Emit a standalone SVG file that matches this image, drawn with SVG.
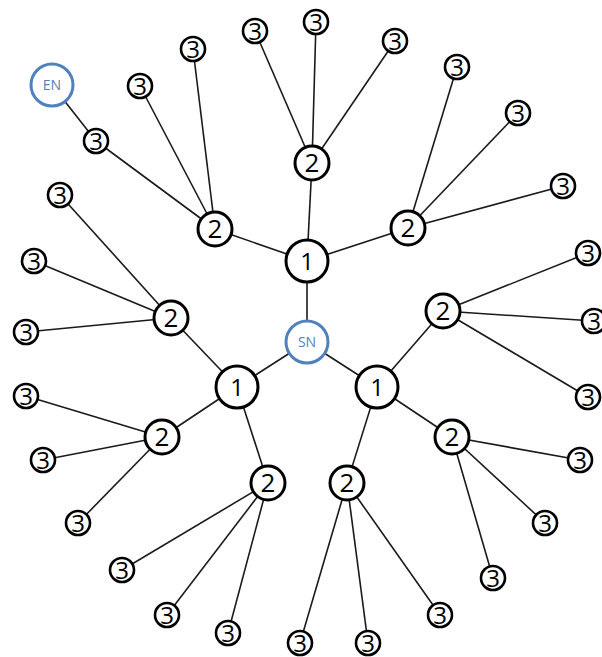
<svg xmlns="http://www.w3.org/2000/svg" width="602" height="657" viewBox="0 0 602 657">
  <style>
    .edge { stroke: #1a1a1a; stroke-width: 1.6; fill: none; }
    .n circle { fill: #ffffff; stroke: #000000; }
    .n text { font-family: "Open Sans", "Liberation Sans", sans-serif; fill: #000000; text-anchor: middle; }
    .l3 circle { stroke-width: 2.6; }
    .l3 text { font-size: 24px; }
    .l2 circle { stroke-width: 3; }
    .l2 text { font-size: 26px; }
    .l1 circle { stroke-width: 3; }
    .l1 text { font-size: 24px; }
    .term circle { stroke: #4f81bd; stroke-width: 3; }
    .term text { fill: #4f81bd; font-size: 14px; }
  </style>
  <rect width="602" height="657" fill="#ffffff"/>

  <!-- connectors -->
  <g id="connectors">
    <!-- start node to level 1 -->
    <line class="edge" x1="307" y1="342" x2="307" y2="261"/>
    <line class="edge" x1="307" y1="342" x2="237" y2="387"/>
    <line class="edge" x1="307" y1="342" x2="377" y2="387"/>
    <!-- level 1 to level 2 -->
    <line class="edge" x1="307" y1="261" x2="215" y2="229"/>
    <line class="edge" x1="307" y1="261" x2="312" y2="163"/>
    <line class="edge" x1="307" y1="261" x2="408" y2="228"/>
    <line class="edge" x1="237" y1="387" x2="171" y2="318"/>
    <line class="edge" x1="237" y1="387" x2="162" y2="437"/>
    <line class="edge" x1="237" y1="387" x2="268" y2="483"/>
    <line class="edge" x1="377" y1="387" x2="347" y2="483"/>
    <line class="edge" x1="377" y1="387" x2="452" y2="437"/>
    <line class="edge" x1="377" y1="387" x2="443" y2="311"/>
    <!-- level 2 to level 3 -->
    <line class="edge" x1="215" y1="229" x2="96" y2="141"/>
    <line class="edge" x1="215" y1="229" x2="140" y2="86"/>
    <line class="edge" x1="215" y1="229" x2="193" y2="49"/>
    <line class="edge" x1="312" y1="163" x2="255" y2="31"/>
    <line class="edge" x1="312" y1="163" x2="316" y2="22"/>
    <line class="edge" x1="312" y1="163" x2="395" y2="41"/>
    <line class="edge" x1="408" y1="228" x2="457" y2="67"/>
    <line class="edge" x1="408" y1="228" x2="518" y2="113"/>
    <line class="edge" x1="408" y1="228" x2="563" y2="186"/>
    <line class="edge" x1="171" y1="318" x2="60" y2="195"/>
    <line class="edge" x1="171" y1="318" x2="34" y2="261"/>
    <line class="edge" x1="171" y1="318" x2="26" y2="332"/>
    <line class="edge" x1="162" y1="437" x2="26" y2="396"/>
    <line class="edge" x1="162" y1="437" x2="43" y2="460"/>
    <line class="edge" x1="162" y1="437" x2="78" y2="523"/>
    <line class="edge" x1="268" y1="483" x2="122" y2="570"/>
    <line class="edge" x1="268" y1="483" x2="167" y2="615"/>
    <line class="edge" x1="268" y1="483" x2="228" y2="633"/>
    <line class="edge" x1="347" y1="483" x2="300" y2="643"/>
    <line class="edge" x1="347" y1="483" x2="368" y2="643"/>
    <line class="edge" x1="347" y1="483" x2="440" y2="615"/>
    <line class="edge" x1="452" y1="437" x2="493" y2="578"/>
    <line class="edge" x1="452" y1="437" x2="545" y2="523"/>
    <line class="edge" x1="452" y1="437" x2="580" y2="460"/>
    <line class="edge" x1="443" y1="311" x2="588" y2="253"/>
    <line class="edge" x1="443" y1="311" x2="594" y2="321"/>
    <line class="edge" x1="443" y1="311" x2="588" y2="397"/>
    <!-- path end -->
    <line class="edge" x1="96" y1="141" x2="52" y2="85"/>
  </g>

  <!-- terminal nodes -->
  <g id="SN" class="n term"><circle cx="307" cy="342" r="21"/><text x="307" y="342" dy="0.36em">SN</text></g>
  <g id="EN" class="n term"><circle cx="52" cy="85" r="21"/><text x="52" y="85" dy="0.36em">EN</text></g>

  <!-- level 1 -->
  <g id="n1a" class="n l1"><circle cx="307" cy="261" r="21"/><text x="307" y="261" dy="0.36em">1</text></g>
  <g id="n1b" class="n l1"><circle cx="237" cy="387" r="21"/><text x="237" y="387" dy="0.36em">1</text></g>
  <g id="n1c" class="n l1"><circle cx="377" cy="387" r="21"/><text x="377" y="387" dy="0.36em">1</text></g>

  <!-- level 2 -->
  <g id="n2a" class="n l2"><circle cx="215" cy="229" r="17"/><text x="215" y="229" dy="0.36em">2</text></g>
  <g id="n2b" class="n l2"><circle cx="312" cy="163" r="17"/><text x="312" y="163" dy="0.36em">2</text></g>
  <g id="n2c" class="n l2"><circle cx="408" cy="228" r="17"/><text x="408" y="228" dy="0.36em">2</text></g>
  <g id="n2d" class="n l2"><circle cx="171" cy="318" r="17"/><text x="171" y="318" dy="0.36em">2</text></g>
  <g id="n2e" class="n l2"><circle cx="162" cy="437" r="17"/><text x="162" y="437" dy="0.36em">2</text></g>
  <g id="n2f" class="n l2"><circle cx="268" cy="483" r="17"/><text x="268" y="483" dy="0.36em">2</text></g>
  <g id="n2g" class="n l2"><circle cx="347" cy="483" r="17"/><text x="347" y="483" dy="0.36em">2</text></g>
  <g id="n2h" class="n l2"><circle cx="452" cy="437" r="17"/><text x="452" y="437" dy="0.36em">2</text></g>
  <g id="n2i" class="n l2"><circle cx="443" cy="311" r="17"/><text x="443" y="311" dy="0.36em">2</text></g>

  <!-- level 3 -->
  <g id="n3a" class="n l3"><circle cx="96" cy="141" r="12"/><text x="96" y="141" dy="0.36em">3</text></g>
  <g id="n3b" class="n l3"><circle cx="140" cy="86" r="12"/><text x="140" y="86" dy="0.36em">3</text></g>
  <g id="n3c" class="n l3"><circle cx="193" cy="49" r="12"/><text x="193" y="49" dy="0.36em">3</text></g>
  <g id="n3d" class="n l3"><circle cx="255" cy="31" r="12"/><text x="255" y="31" dy="0.36em">3</text></g>
  <g id="n3e" class="n l3"><circle cx="316" cy="22" r="12"/><text x="316" y="22" dy="0.36em">3</text></g>
  <g id="n3f" class="n l3"><circle cx="395" cy="41" r="12"/><text x="395" y="41" dy="0.36em">3</text></g>
  <g id="n3g" class="n l3"><circle cx="457" cy="67" r="12"/><text x="457" y="67" dy="0.36em">3</text></g>
  <g id="n3h" class="n l3"><circle cx="518" cy="113" r="12"/><text x="518" y="113" dy="0.36em">3</text></g>
  <g id="n3i" class="n l3"><circle cx="563" cy="186" r="12"/><text x="563" y="186" dy="0.36em">3</text></g>
  <g id="n3j" class="n l3"><circle cx="60" cy="195" r="12"/><text x="60" y="195" dy="0.36em">3</text></g>
  <g id="n3k" class="n l3"><circle cx="34" cy="261" r="12"/><text x="34" y="261" dy="0.36em">3</text></g>
  <g id="n3l" class="n l3"><circle cx="26" cy="332" r="12"/><text x="26" y="332" dy="0.36em">3</text></g>
  <g id="n3m" class="n l3"><circle cx="26" cy="396" r="12"/><text x="26" y="396" dy="0.36em">3</text></g>
  <g id="n3n" class="n l3"><circle cx="43" cy="460" r="12"/><text x="43" y="460" dy="0.36em">3</text></g>
  <g id="n3o" class="n l3"><circle cx="78" cy="523" r="12"/><text x="78" y="523" dy="0.36em">3</text></g>
  <g id="n3p" class="n l3"><circle cx="122" cy="570" r="12"/><text x="122" y="570" dy="0.36em">3</text></g>
  <g id="n3q" class="n l3"><circle cx="167" cy="615" r="12"/><text x="167" y="615" dy="0.36em">3</text></g>
  <g id="n3r" class="n l3"><circle cx="228" cy="633" r="12"/><text x="228" y="633" dy="0.36em">3</text></g>
  <g id="n3s" class="n l3"><circle cx="300" cy="643" r="12"/><text x="300" y="643" dy="0.36em">3</text></g>
  <g id="n3t" class="n l3"><circle cx="368" cy="643" r="12"/><text x="368" y="643" dy="0.36em">3</text></g>
  <g id="n3u" class="n l3"><circle cx="440" cy="615" r="12"/><text x="440" y="615" dy="0.36em">3</text></g>
  <g id="n3v" class="n l3"><circle cx="493" cy="578" r="12"/><text x="493" y="578" dy="0.36em">3</text></g>
  <g id="n3w" class="n l3"><circle cx="545" cy="523" r="12"/><text x="545" y="523" dy="0.36em">3</text></g>
  <g id="n3x" class="n l3"><circle cx="580" cy="460" r="12"/><text x="580" y="460" dy="0.36em">3</text></g>
  <g id="n3y" class="n l3"><circle cx="588" cy="253" r="12"/><text x="588" y="253" dy="0.36em">3</text></g>
  <g id="n3z" class="n l3"><circle cx="594" cy="321" r="12"/><text x="594" y="321" dy="0.36em">3</text></g>
  <g id="n3aa" class="n l3"><circle cx="588" cy="397" r="12"/><text x="588" y="397" dy="0.36em">3</text></g>
</svg>
